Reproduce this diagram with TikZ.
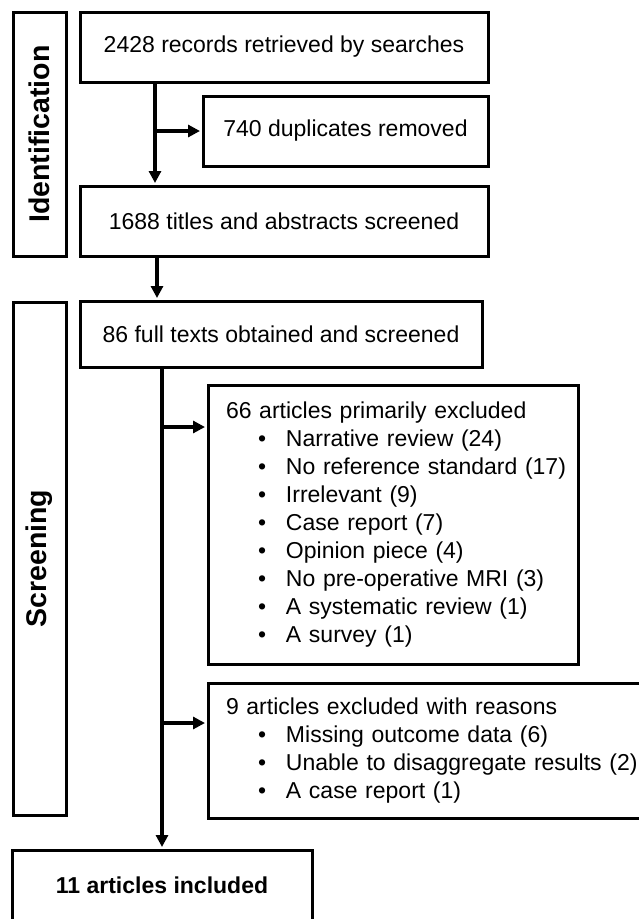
\documentclass[tikz,border=0pt]{standalone}
\usepackage{fontspec}
\setmainfont{Liberation Sans}
\usepackage{graphicx}
\usepackage{tikz}
\usetikzlibrary{positioning,arrows.meta}

\newcommand{\bul}[1]{\mbox{\makebox[60pt][l]{\hspace{32pt}\textbullet}#1}}

\begin{document}
\begin{tikzpicture}
[
x=1pt, y=1pt,
box-a/.style={draw, rectangle, line width=3pt, outer sep=0pt, inner sep=0pt, font=\fontsize{23}{28}\selectfont},
list-a/.style={box-a, align=left, inner xsep=18pt, anchor=north west},
side-a/.style={box-a, minimum width=53pt, font=\bfseries\fontsize{28.5}{32}\selectfont},
line-a/.style={line width=3.5pt, shorten >=3pt},
>={Triangle[length=12pt, width=12pt]}
]
\useasboundingbox (0,0) rectangle (639,-919);
\clip (0,0) rectangle (639,-919);
\node (box-1)   [box-a, minimum width=408pt, minimum height=70pt] at (284,-47) {2428 records retrieved by searches};
\node (box-dup) [box-a, minimum width=285pt, minimum height=70pt, below = 14pt of box-1.south east, anchor=north east] {740 duplicates removed};
\node (box-2)   [box-a, minimum width=408pt, minimum height=70pt, below = 104pt of box-1] {1688 titles and abstracts screened};
\node (box-3)   [box-a, minimum width=402pt, minimum height=66pt, below = 45pt of box-2.south west, anchor=north west] {86 full texts obtained and screened};
\node (box-ex1) [list-a, text width=334pt, minimum width=370pt, minimum height=279pt, below right = 18pt and 128pt of box-3.south west]
  {66 articles primarily excluded\\
   \bul{Narrative review (24)}\\
   \bul{No reference standard (17)}\\
   \bul{Irrelevant (9)}\\
   \bul{Case report (7)}\\
   \bul{Opinion piece (4)}\\
   \bul{No pre-operative MRI (3)}\\
   \bul{A systematic review (1)}\\
   \bul{A survey (1)}};
\node (box-ex2) [list-a, text width=424pt, minimum width=460pt, minimum height=135pt, below = 19pt of box-ex1.south west, anchor=north west]
  {9 articles excluded with reasons\\
   \bul{Missing outcome data (6)}\\
   \bul{Unable to disaggregate results (2)}\\
   \bul{A case report (1)}};
\node (id-box)  [side-a, minimum height=244pt, left = 14pt of box-1.north west, anchor=north east] {\rotatebox{90}{Identification}};
\node (scr-box) [side-a, minimum height=513pt, below = 46pt of id-box] {\rotatebox{90}{Screening}};
\node (box-inc) [box-a, minimum width=300pt, minimum height=70pt, below = 35pt of scr-box.south west, anchor=north west, xshift=-1pt, font=\bfseries\fontsize{23}{28}\selectfont] {11 articles included};
% connectors
\coordinate (trunk-1) at ([xshift=75pt]box-1.south west);
\coordinate (trunk-2) at ([xshift=77pt]box-2.south west);
\coordinate (ex1-in)  at ([yshift=-42pt]box-ex1.north west);
\coordinate (ex2-in)  at ([yshift=-40pt]box-ex2.north west);
\draw [->, line-a] (trunk-1) -- (trunk-1 |- box-2.north);
\draw [->, line-a] (trunk-1 |- box-dup.west) -- (box-dup.west);
\draw [->, line-a] (trunk-2) -- (trunk-2 |- box-3.north);
\draw [->, line-a] (box-inc.north |- box-3.south) -- (box-inc.north);
\draw [->, line-a] (box-inc.north |- ex1-in) -- (ex1-in);
\draw [->, line-a] (box-inc.north |- ex2-in) -- (ex2-in);
\end{tikzpicture}
\end{document}
